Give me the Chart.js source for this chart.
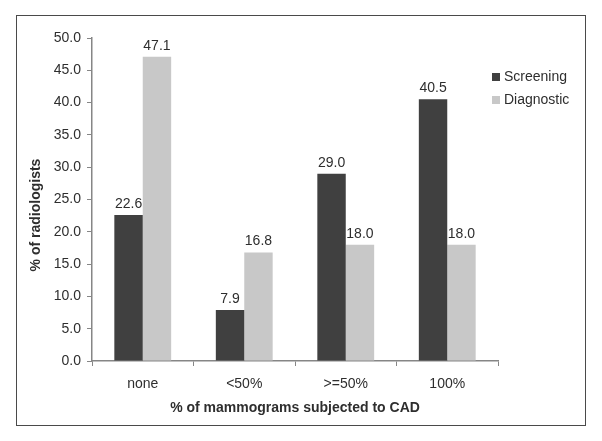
<!DOCTYPE html>
<html>
<head>
<meta charset="utf-8">
<script src="https://cdn.jsdelivr.net/npm/chart.js@4"></script>
<style>
  html, body { margin: 0; padding: 0; background: #fff; }
  #wrap { position: relative; width: 602px; height: 441px; }
</style>
</head>
<body>
<div id="wrap"><canvas id="c" width="602" height="441"></canvas></div>
<script>
/* data */
const categories = ['none', '<50%', '>=50%', '100%'];
const screening  = [22.6, 7.9, 29.0, 40.5];
const diagnostic = [47.1, 16.8, 18.0, 18.0];
const yTicks     = [0, 5, 10, 15, 20, 25, 30, 35, 40, 45, 50];
const xTitle     = '% of mammograms subjected to CAD';
const yTitle     = '% of radiologists';

const DARK  = '#404040';
const LIGHT = '#c8c8c8';
const AXIS  = '#868686';
const TEXT  = '#2e2e2e';
const FONT  = "'Liberation Sans', Arial, sans-serif";

Chart.defaults.font.family = FONT;
Chart.defaults.color = TEXT;

/* outer frame round the whole chart */
const framePlugin = {
    id: 'frame',
    beforeDraw(chart) {
        const ctx = chart.ctx;
        ctx.save();
        ctx.fillStyle = '#fff';
        ctx.fillRect(0, 0, chart.width, chart.height);
        ctx.strokeStyle = '#4a4a4a';
        ctx.lineWidth = 1;
        ctx.strokeRect(16.5, 15.5, 569, 410);
        ctx.restore();
    }
};

/* value labels above each bar */
const valueLabels = {
    id: 'valueLabels',
    afterDatasetsDraw(chart) {
        const ctx = chart.ctx;
        ctx.save();
        ctx.font = '14px ' + FONT;
        ctx.fillStyle = TEXT;
        ctx.textAlign = 'center';
        ctx.textBaseline = 'bottom';
        chart.data.datasets.forEach((ds, i) => {
            chart.getDatasetMeta(i).data.forEach((bar, j) => {
                ctx.fillText(ds.data[j].toFixed(1), bar.x, bar.y - 4);
            });
        });
        ctx.restore();
    }
};

/* legend at the right + rotated y title */
const sideLegend = {
    id: 'sideLegend',
    afterDraw(chart) {
        const ctx = chart.ctx;
        ctx.save();
        ctx.font = '14px ' + FONT;
        ctx.textBaseline = 'middle';
        ctx.textAlign = 'left';
        chart.data.datasets.forEach((ds, i) => {
            const y = 77 + i * 23;
            ctx.fillStyle = ds.backgroundColor;
            ctx.fillRect(492, y - 4, 8, 8);
            ctx.fillStyle = TEXT;
            ctx.fillText(ds.label, 504, y);
        });
        ctx.translate(36, 215);
        ctx.rotate(-Math.PI / 2);
        ctx.textAlign = 'center';
        ctx.font = 'bold 14px ' + FONT;
        ctx.fillText(yTitle, 0, 0);
        ctx.restore();
    }
};

new Chart(document.getElementById('c'), {
    type: 'bar',
    data: {
        labels: categories,
        datasets: [
            { label: 'Screening',  data: screening,  backgroundColor: DARK },
            { label: 'Diagnostic', data: diagnostic, backgroundColor: LIGHT }
        ]
    },
    options: {
        responsive: false,
        animation: false,
        devicePixelRatio: 1,
        layout: { padding: { left: 0, right: 104, top: 38, bottom: 0 } },
        datasets: { bar: { categoryPercentage: 0.56, barPercentage: 1.0 } },
        plugins: { legend: { display: false }, tooltip: { enabled: false } },
        scales: {
            x: {
                grid: { offset: true, drawOnChartArea: false, color: AXIS, tickLength: 5 },
                border: { color: AXIS, width: 1.5 },
                ticks: { font: { size: 14 }, color: TEXT, padding: 10 },
                title: {
                    display: true, text: xTitle,
                    font: { size: 14, weight: 'bold' }, color: TEXT,
                    padding: { top: 0, bottom: 24 }
                },
                afterFit(s) { s.height = 80; }
            },
            y: {
                min: 0, max: 50,
                afterBuildTicks(s) { s.ticks = yTicks.map(v => ({ value: v })); },
                grid: { drawOnChartArea: false, color: AXIS, tickLength: 5 },
                border: { color: AXIS, width: 1.5 },
                ticks: { font: { size: 14 }, color: TEXT, padding: 6, callback: v => v.toFixed(1) },
                afterFit(s) { s.width = 92; }
            }
        }
    },
    plugins: [framePlugin, valueLabels, sideLegend]
});
</script>
</body>
</html>
